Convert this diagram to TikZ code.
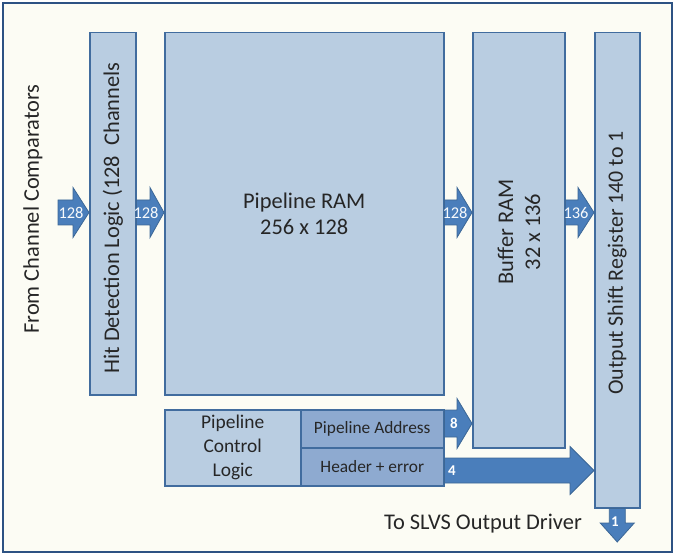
\documentclass[tikz,border=0pt]{standalone}
\usepackage{fontspec}
\setmainfont{Carlito}
\usetikzlibrary{calc}
\definecolor{bgcream}{HTML}{FCFCF4}
\definecolor{framec}{HTML}{2D5283}
\definecolor{boxfill}{HTML}{B9CDE1}
\definecolor{boxline}{HTML}{416C9E}
\definecolor{darkfill}{HTML}{8EAAD0}
\definecolor{arrfill}{HTML}{4A7EBB}
\definecolor{arrline}{HTML}{3C6796}
\definecolor{txt}{HTML}{262626}
\tikzset{
  blk/.style={draw=boxline, fill=boxfill, line width=1.5bp, inner sep=0pt, anchor=north west, text=txt, align=center},
  dblk/.style={blk, fill=darkfill},
  barrow/.style={draw=arrline, fill=arrfill, line width=0.8bp, line join=miter},
  numlbl/.style={text=white!90!boxfill, font=\fontsize{16.5}{16.5}\selectfont, inner sep=0pt},
  boldlbl/.style={text=white, font=\fontsize{15}{15}\selectfont\bfseries, inner sep=0pt},
  bigtxt/.style={text=txt, font=\fontsize{22.5}{27}\selectfont, align=center, inner sep=0pt},
}
% #1 start, #2 tip, #3 body half, #4 head half, #5 head length
\newcommand\harrow[5]{%
  \draw[barrow] let \p1=(#1), \p2=(#2) in
    (\x1,\y1+#3) -- (\x2-#5,\y1+#3) -- (\x2-#5,\y1+#4) -- (\x2,\y1)
    -- (\x2-#5,\y1-#4) -- (\x2-#5,\y1-#3) -- (\x1,\y1-#3) -- cycle;}
\begin{document}
\begin{tikzpicture}[x=1bp,y=-1bp]
\useasboundingbox (0,0) rectangle (675,555);
\fill[white] (0,0) rectangle (675,555);
\draw[draw=framec, fill=bgcream, line width=1.5bp] (3,3) rectangle (672,552);

% blocks
\node[blk, minimum width=46bp, minimum height=362bp] (hit) at (89,32) {};
\node[blk, minimum width=279bp, minimum height=362bp, font=\fontsize{22.5}{27}\selectfont] (pram) at (164,32) {Pipeline RAM\\256 x 128};
\node[blk, minimum width=92bp, minimum height=415bp] (buf) at (472,32) {};
\node[blk, minimum width=45bp, minimum height=475bp] (osr) at (594,32) {};
\node[blk, minimum width=136bp, minimum height=76bp, font=\fontsize{19.5}{24}\selectfont] (pcl) at (164,409) {Pipeline\\Control\\Logic};
\node[dblk, minimum width=143bp, minimum height=38bp, font=\fontsize{17.4}{18}\selectfont] (paddr) at (300,409) {Pipeline Address};
\node[dblk, minimum width=143bp, minimum height=38bp, font=\fontsize{17.4}{18}\selectfont] (hdr) at (300,447) {Header + error};

% rotated texts
\node[bigtxt, rotate=90] (fromtxt) at (33,209) {From Channel Comparators};
\node[bigtxt, rotate=90] (hittxt) at (hit.center|-0,218) {Hit Detection Logic (128\ \ Channels};
\node[bigtxt, rotate=90, font=\fontsize{22.5}{27}\selectfont] (buftxt) at (519,232) {Buffer RAM\\32 x 136};
\node[bigtxt, rotate=90, font=\fontsize{22}{27}\selectfont] (osrtxt) at (osr.center|-0,263) {Output Shift Register 140 to 1};
\node[bigtxt] (slvs) at (483,524) {To SLVS Output Driver};

% arrow rows
\coordinate (in1) at (58,212.5);
\coordinate (r8) at (0,423.5);
\coordinate (r4) at (0,470.5);
\coordinate (out) at (615,542);

\harrow{in1}{hit.west|-in1}{12.5bp}{25bp}{16bp}
\harrow{hit.east|-in1}{pram.west|-in1}{12.5bp}{25bp}{14bp}
\harrow{pram.east|-in1}{buf.west|-in1}{12.5bp}{25bp}{15bp}
\harrow{buf.east|-in1}{osr.west|-in1}{12.5bp}{25bp}{16bp}
\harrow{paddr.east|-r8}{buf.west|-r8}{13.5bp}{25bp}{15bp}
\harrow{hdr.east|-r4}{osr.west|-r4}{12.5bp}{24bp}{24bp}
\draw[barrow] let \p1=(osr.south), \p2=(out) in
  (\x1-8bp,\y1) -- (\x1-8bp,\y2+19bp) -- (\x1-17bp,\y2+19bp) -- (\x1,\y2)
  -- (\x1+17bp,\y2+19bp) -- (\x1+8bp,\y2+19bp) -- (\x1+8bp,\y1) -- cycle;

% arrow labels
\node[numlbl] (l1) at (71,213) {128};
\node[numlbl] (l2) at (146,213) {128};
\node[numlbl] (l3) at (455,213) {128};
\node[numlbl] (l4) at (576,213) {136};
\node[boldlbl] (l8) at (454,423) {8};
\node[boldlbl] (l4b) at (452,471) {4};
\node[boldlbl] (l1b) at (615,522) {1};
\end{tikzpicture}
\end{document}
